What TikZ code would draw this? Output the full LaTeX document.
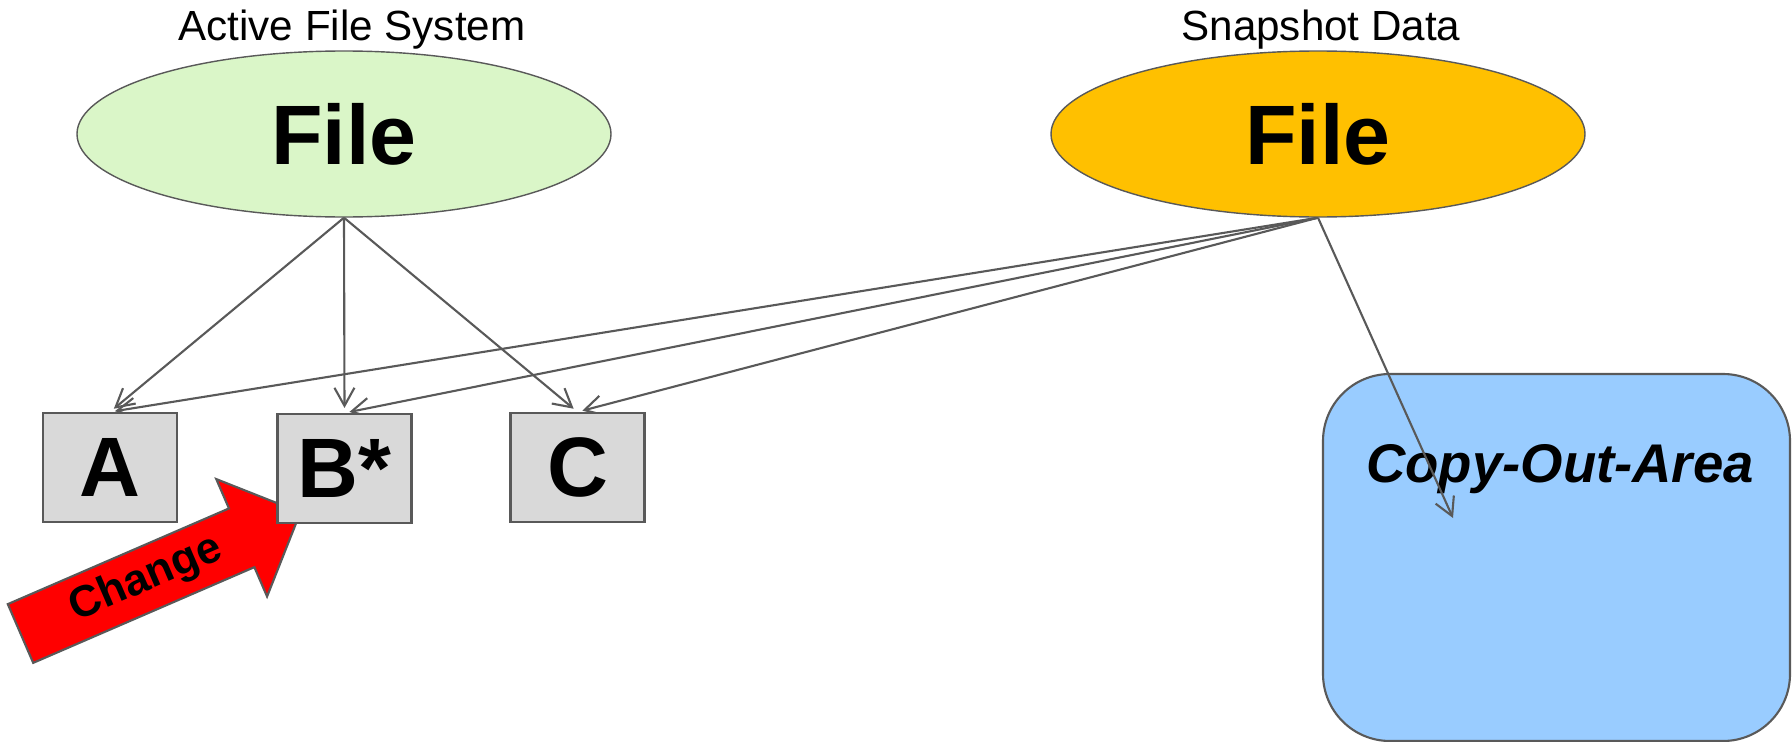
\documentclass[tikz,border=0pt]{standalone}
\usepackage{fontspec}
\setmainfont{Liberation Sans}
\usetikzlibrary{shapes.geometric,arrows.meta}
\pgfdeclarelayer{arealayer}
\pgfdeclarelayer{nodelayer}
\pgfdeclarelayer{edgelayer}
\pgfsetlayers{arealayer,edgelayer,nodelayer,main}
\definecolor{edgegray}{RGB}{89,89,89}
\definecolor{activegreen}{RGB}{218,246,200}
\definecolor{snapamber}{RGB}{255,192,0}
\definecolor{blockgray}{RGB}{217,217,217}
\definecolor{areablue}{RGB}{153,204,255}
\tikzstyle{file}=[shape=ellipse, draw=edgegray, line width=0.4pt, minimum width=5.34cm, minimum height=1.66cm, inner sep=0pt, font=\fontsize{24}{28}\selectfont\bfseries]
\tikzstyle{caption}=[anchor=base, font=\fontsize{12}{14}\selectfont]
\tikzstyle{block}=[fill=blockgray, draw=edgegray, line width=0.6pt, minimum width=1.34cm, minimum height=1.09cm, inner sep=0pt, font=\fontsize{24}{28}\selectfont\bfseries]
\tikzstyle{area}=[fill=areablue, draw=edgegray, line width=0.6pt, rounded corners=0.67cm, minimum width=4.67cm, minimum height=3.67cm]
\tikzstyle{area label}=[anchor=base, font=\fontsize{15.5}{18}\selectfont\bfseries\itshape]
\tikzstyle{directed edge}=[draw=edgegray, line width=0.6pt, -{Straight Barb[length=1.8mm,width=2mm]}, shorten >=0.05cm]
\tikzstyle{change arrow}=[fill=red, draw=edgegray, line width=0.6pt]

\begin{document}
\begin{tikzpicture}
	\useasboundingbox (0, 0) rectangle (17.92, 7.41);
	\begin{pgfonlayer}{arealayer}
		\node [style=area] (9) at (15.565, 1.835) {};
		\node [style=area label] (10) at (15.6, 2.59) {Copy-Out-Area};
		\begin{scope}[shift={(0.205, 1.075)}, rotate=23.4]
			\draw [style=change arrow] (0, -0.32) -- (2.41, -0.32) -- (2.41, -0.64) -- (3.05, 0) -- (2.41, 0.64) -- (2.41, 0.32) -- (0, 0.32) -- cycle;
			\node [rotate=23.4, font=\fontsize{12.5}{15}\selectfont\bfseries] (11) at (1.37, 0) {Change};
		\end{scope}
	\end{pgfonlayer}
	\begin{pgfonlayer}{nodelayer}
		\node [style=file, fill=activegreen] (0) at (3.44, 6.07) {File};
		\node [style=caption] (1) at (3.52, 7.01) {Active File System};
		\node [style=file, fill=snapamber] (2) at (13.18, 6.07) {File};
		\node [style=caption] (3) at (13.21, 7.01) {Snapshot Data};
		\node [style=block] (4) at (1.10, 2.735) {A};
		\node [style=block] (5) at (3.445, 2.725) {B*};
		\node [style=block] (6) at (5.775, 2.735) {C};
		\coordinate (12) at (14.53, 2.23);
	\end{pgfonlayer}
	\begin{pgfonlayer}{edgelayer}
		\draw [style=directed edge] (0.south) to (4.north);
		\draw [style=directed edge] (0.south) to (5.north);
		\draw [style=directed edge] (0.south) to (6.north);
		\draw [style=directed edge] (2.south) to (4.north);
		\draw [style=directed edge] (2.south) to (5.north);
		\draw [style=directed edge] (2.south) to (6.north);
		\draw [style=directed edge, shorten >=0pt] (2.south) to (12);
	\end{pgfonlayer}
\end{tikzpicture}
\end{document}
